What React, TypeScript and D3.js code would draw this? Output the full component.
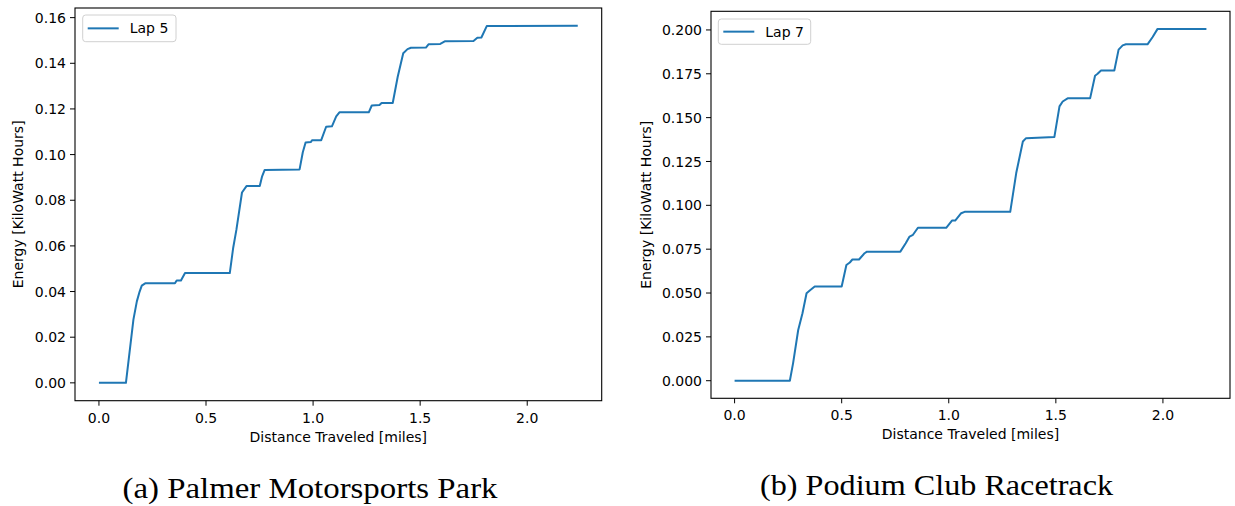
import React from 'react';
import * as d3 from 'd3';

// Lap 5 - Palmer Motorsports Park
const lap5Distance = [
  0, 0.126, 0.161, 0.177, 0.19, 0.2, 0.216, 0.355, 0.363, 0.383, 0.402, 0.611,
  0.627, 0.642, 0.668, 0.689, 0.751, 0.762, 0.774, 0.937, 0.952, 0.965, 0.99,
  0.995, 1.038, 1.061, 1.088, 1.108, 1.123, 1.26, 1.274, 1.31, 1.32, 1.372,
  1.395, 1.421, 1.441, 1.457, 1.527, 1.539, 1.594, 1.617, 1.749, 1.767, 1.786,
  1.811, 2.236,
];
const lap5Energy = [
  0, 0, 0.0277, 0.0357, 0.04, 0.0426, 0.0436, 0.0436, 0.0448, 0.0448, 0.0481,
  0.0481, 0.0592, 0.0671, 0.0834, 0.0862, 0.0862, 0.0905, 0.0933, 0.0935,
  0.101, 0.1053, 0.1055, 0.1063, 0.1063, 0.1122, 0.1124, 0.1167, 0.1185,
  0.1185, 0.1215, 0.1217, 0.1226, 0.1226, 0.134, 0.1444, 0.1462, 0.1468,
  0.1469, 0.1483, 0.1485, 0.1497, 0.1498, 0.1512, 0.1513, 0.1563, 0.1564,
];

// Lap 7 - Podium Club Racetrack
const lap7Distance = [
  0, 0.258, 0.273, 0.297, 0.317, 0.336, 0.351, 0.374, 0.5, 0.522, 0.538, 0.55,
  0.581, 0.607, 0.618, 0.774, 0.799, 0.817, 0.833, 0.856, 0.988, 1.015, 1.03,
  1.058, 1.074, 1.287, 1.315, 1.346, 1.361, 1.493, 1.517, 1.532, 1.555, 1.66,
  1.683, 1.695, 1.711, 1.773, 1.793, 1.812, 1.827, 1.928, 1.952, 1.975, 2.203,
];
const lap7Energy = [
  0, 0, 0.0099, 0.0289, 0.0385, 0.0499, 0.0514, 0.0537, 0.0537, 0.066, 0.0674,
  0.0691, 0.0691, 0.0727, 0.0736, 0.0736, 0.0784, 0.0822, 0.0832, 0.0872,
  0.0872, 0.0913, 0.0913, 0.0955, 0.0963, 0.0963, 0.1184, 0.1364, 0.1383,
  0.1389, 0.1564, 0.1592, 0.161, 0.161, 0.1739, 0.175, 0.1769, 0.1769, 0.1888,
  0.1912, 0.1918, 0.1918, 0.196, 0.2006, 0.2006,
];

const xTicks = [0, 0.5, 1.0, 1.5, 2.0];
const yTicksA = [0, 0.02, 0.04, 0.06, 0.08, 0.1, 0.12, 0.14, 0.16];
const yTicksB = [0, 0.025, 0.05, 0.075, 0.1, 0.125, 0.15, 0.175, 0.2];

const BLUE = '#1f77b4';
const SANS = 'DejaVu Sans, sans-serif';

type PanelProps = {
  xs: number[];
  ys: number[];
  yTicks: number[];
  yDigits: number;
  label: string;
  box: { left: number; top: number; right: number; bottom: number };
  legend: { x: number; y: number; w: number; h: number };
  yLabelX: number;
  caption: string;
  captionX: number;
  captionY: number;
  captionW: number;
};

const Panel = ({ xs, ys, yTicks, yDigits, label, box, legend, yLabelX, caption, captionX, captionY, captionW }: PanelProps) => {
  const xMax = d3.max(xs) as number;
  const yMax = d3.max(ys) as number;
  const x = d3
    .scaleLinear()
    .domain([-0.05 * xMax, 1.05 * xMax])
    .range([box.left, box.right]);
  const y = d3
    .scaleLinear()
    .domain([-0.05 * yMax, 1.05 * yMax])
    .range([box.bottom, box.top]);

  const line = d3
    .line<number>()
    .x((d, i) => x(xs[i]))
    .y((d) => y(d));

  const fmtY = d3.format(`.${yDigits}f`);
  const midY = (box.top + box.bottom) / 2;
  const midX = (box.left + box.right) / 2;

  return (
    <g>
      <path d={line(ys) || ''} fill="none" stroke={BLUE} strokeWidth={2} strokeLinejoin="round" />

      {/* y axis */}
      {yTicks.map((t) => (
        <g key={'y' + t}>
          <line x1={box.left - 5} x2={box.left} y1={y(t)} y2={y(t)} stroke="#000" strokeWidth={1} />
          <text x={box.left - 9} y={y(t)} dy="0.36em" textAnchor="end" fontFamily={SANS} fontSize={14}>
            {fmtY(t)}
          </text>
        </g>
      ))}
      {/* x axis */}
      {xTicks.map((t) => (
        <g key={'x' + t}>
          <line x1={x(t)} x2={x(t)} y1={box.bottom} y2={box.bottom + 5} stroke="#000" strokeWidth={1} />
          <text x={x(t)} y={box.bottom + 22} textAnchor="middle" fontFamily={SANS} fontSize={14}>
            {t.toFixed(1)}
          </text>
        </g>
      ))}

      <rect
        x={box.left}
        y={box.top}
        width={box.right - box.left}
        height={box.bottom - box.top}
        fill="none"
        stroke="#000"
        strokeWidth={1.1}
      />

      <text x={midX} y={box.bottom + 41} textAnchor="middle" fontFamily={SANS} fontSize={14}>
        Distance Traveled [miles]
      </text>
      <text
        transform={`translate(${yLabelX},${midY}) rotate(-90)`}
        textAnchor="middle"
        fontFamily={SANS}
        fontSize={14}
      >
        Energy [KiloWatt Hours]
      </text>

      {/* legend */}
      <rect x={legend.x} y={legend.y} width={legend.w} height={legend.h} rx={3} fill="#fff" fillOpacity={0.8} stroke="#d0d0d0" strokeWidth={1} />
      <line
        x1={legend.x + 5}
        x2={legend.x + 36}
        y1={legend.y + legend.h / 2}
        y2={legend.y + legend.h / 2}
        stroke={BLUE}
        strokeWidth={2}
      />
      <text x={legend.x + 47} y={legend.y + legend.h / 2} dy="0.36em" fontFamily={SANS} fontSize={14}>
        {label}
      </text>

      <text
        x={captionX}
        y={captionY}
        fontFamily="Liberation Serif, serif"
        fontSize={30}
        textLength={captionW}
        lengthAdjust="spacingAndGlyphs"
      >
        {caption}
      </text>
    </g>
  );
};

export default function App() {
  return (
    <svg width={1235} height={506} style={{ display: 'block', position: 'absolute', left: 0, top: 0, background: '#fff' }}>
      <rect width={1235} height={506} fill="#fff" />
      <Panel
        xs={lap5Distance}
        ys={lap5Energy}
        yTicks={yTicksA}
        yDigits={2}
        label="Lap 5"
        box={{ left: 75, top: 8, right: 601.7, bottom: 400.7 }}
        legend={{ x: 82.7, y: 15, w: 93.3, h: 26.7 }}
        yLabelX={23}
        caption="(a) Palmer Motorsports Park"
        captionX={122.5}
        captionY={498}
        captionW={375}
      />
      <Panel
        xs={lap7Distance}
        ys={lap7Energy}
        yTicks={yTicksB}
        yDigits={3}
        label="Lap 7"
        box={{ left: 711, top: 11.3, right: 1230, bottom: 398.3 }}
        legend={{ x: 718.3, y: 19, w: 92.4, h: 25.3 }}
        yLabelX={651}
        caption="(b) Podium Club Racetrack"
        captionX={760}
        captionY={495}
        captionW={353}
      />
    </svg>
  );
}
